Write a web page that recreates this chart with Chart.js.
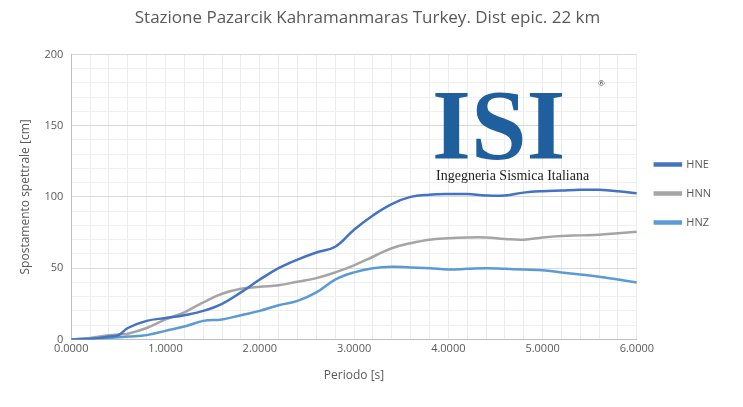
<!DOCTYPE html>
<html><head><meta charset="utf-8">
<script src="https://cdn.jsdelivr.net/npm/chart.js@4/dist/chart.umd.min.js"></script>
<style>body{margin:0;background:#fff}#wrap{width:743px;height:407px}</style>
</head><body><div id="wrap"><canvas id="c"></canvas></div>
<script>
const periods = [0,0.2,0.4,0.5,0.6,0.8,1.0,1.2,1.4,1.6,1.8,2.0,2.2,2.4,2.6,2.8,3.0,3.2,3.4,3.6,3.8,4.0,4.2,4.4,4.6,4.8,5.0,5.2,5.4,5.6,5.8,6.0];
const hne = [0,0.5,2,3,8,13,15,17,20,25,33,42,50,56,61,65,77,87,95,100,101.5,102,102,101,101,103,104,104.5,105,105,104,102.5];
const hnn = [0,1,3,3.5,4,8,14,19,26,32,35.5,37,38,40.5,43,47,52,58,64,67.5,70,71,71.5,71.5,70.5,70,71.5,72.5,73,73.5,74.5,75.5];
const hnz = [0,0.5,1,1.5,2,3,6,9,13,14,17,20,24,27,33,42,47,50,51,50.5,50,49,49.5,50,49.5,49,48.5,47,45.5,44,42,40];
const pts = v => periods.map((p, i) => ({x: p, y: v[i]}));

const logo = {
  id: 'logo',
  afterDraw(chart) {
    const c = chart.ctx;
    c.save();
    c.fillStyle = '#1f5f9e';
    c.font = 'bold 100px "Liberation Serif"';
    c.fillText('ISI', 432, 158);
    c.fillStyle = '#222';
    c.font = '14px "Liberation Serif"';
    c.fillText('Ingegneria Sismica Italiana', 436, 180);
    c.font = '9px "Liberation Serif"';
    c.fillText('®', 598, 86);
    c.restore();
  }
};

new Chart(document.getElementById('c'), {
  type: 'line',
  data: {
    datasets: [
      {label: 'HNE', data: pts(hne), borderColor: '#4472C4', backgroundColor: '#4472C4'},
      {label: 'HNN', data: pts(hnn), borderColor: '#A5A5A5', backgroundColor: '#A5A5A5'},
      {label: 'HNZ', data: pts(hnz), borderColor: '#5B9BD5', backgroundColor: '#5B9BD5'}
    ]
  },
  options: {
    responsive: true,
    maintainAspectRatio: false,
    animation: false,
    elements: {line: {borderWidth: 2.5, tension: 0.4}, point: {radius: 0}},
    layout: {padding: {left: 14, right: 22, top: 0, bottom: 20}},
    plugins: {
      title: {display: true, text: 'Stazione Pazarcik Kahramanmaras Turkey. Dist epic. 22 km',
        color: '#595959', font: {family: 'Open Sans', size: 17, weight: 'normal'}, padding: {top: 8, bottom: 26}},
      legend: {position: 'right', labels: {boxWidth: 26, boxHeight: 2, color: '#595959', padding: 18,
        font: {family: 'Open Sans', size: 11}}}
    },
    scales: {
      x: {type: 'linear', min: 0, max: 6,
        ticks: {stepSize: 0.2, autoSkip: false, maxRotation: 0, color: '#595959', font: {family: 'Open Sans', size: 11},
          callback: v => Math.abs(v - Math.round(v)) < 1e-6 ? v.toFixed(4) : ''},
        grid: {color: '#ececec', drawTicks: false},
        border: {color: '#bfbfbf'},
        title: {display: true, text: 'Periodo [s]', color: '#595959', font: {family: 'Open Sans', size: 12}, padding: {top: 10}}},
      y: {min: 0, max: 200,
        ticks: {stepSize: 10, autoSkip: false, color: '#595959', font: {family: 'Open Sans', size: 11}, padding: 8,
          callback: v => v % 50 === 0 ? v : ''},
        grid: {color: ctx => ctx.tick.value % 50 === 0 ? '#d9d9d9' : '#efefef', drawTicks: false},
        border: {color: '#bfbfbf'},
        title: {display: true, text: 'Spostamento spettrale [cm]', color: '#595959', font: {family: 'Open Sans', size: 12}}}
    }
  },
  plugins: [logo]
});
</script></body></html>
